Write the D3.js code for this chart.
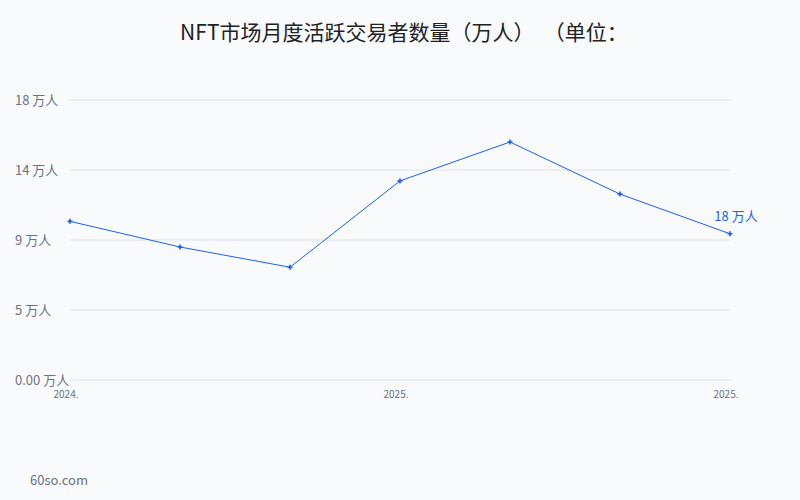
<!DOCTYPE html>
<html>
<head>
<meta charset="utf-8">
<script src="https://cdn.jsdelivr.net/npm/d3@7"></script>
<style>
  body { margin: 0; background: #f8fafc; }
  svg { display: block; font-family: "Noto Sans CJK SC", "Noto Sans", sans-serif; }
</style>
</head>
<body>
<svg width="800" height="500"></svg>
<script>
var months = ["2024.07", "2024.08", "2024.09", "2025.01", "2025.02", "2025.03", "2025.04"];
var traders = [10.2, 8.55, 7.25, 12.8, 15.3, 11.95, 9.4];
var tickValues = [0, 4.5, 9, 13.5, 18];
var tickLabels = ["0.00 万人", "5 万人", "9 万人", "14 万人", "18 万人"];
var xLabelIndex = [0, 3, 6];
var xLabels = ["2024.", "2025.", "2025."];
var endLabel = "18 万人";

var svg = d3.select("svg"), width = +svg.attr("width"),
    height = +svg.attr("height");

var x = d3.scalePoint().domain(d3.range(months.length)).range([70, 730]);
var y = d3.scaleLinear().domain([0, 18]).range([380, 100]);

svg.append("rect").attr("width", width).attr("height", height).attr("fill", "#f8fafc");

svg.append("text")
    .attr("x", 404).attr("y", 40)
    .attr("text-anchor", "middle")
    .attr("font-size", 21)
    .attr("fill", "#222")
    .attr("xml:space", "preserve")
    .style("white-space", "pre")
    .text("NFT市场月度活跃交易者数量（万人）  （单位：");

var grid = svg.append("g").attr("class", "grid");
grid.selectAll("line")
    .data(tickValues)
    .enter()
    .append("line")
    .attr("x1", 70).attr("x2", 730)
    .attr("y1", function(d) { return y(d); })
    .attr("y2", function(d) { return y(d); })
    .attr("stroke", "#dce3f2")
    .attr("stroke-width", 1);

svg.append("g").selectAll("text")
    .data(tickValues)
    .enter()
    .append("text")
    .attr("x", 15)
    .attr("y", function(d) { return y(d); })
    .attr("dy", ".35em")
    .attr("font-size", 13)
    .attr("fill", "#6b7280")
    .text(function(d, i) { return tickLabels[i]; });

svg.append("g").selectAll("text")
    .data(xLabelIndex)
    .enter()
    .append("text")
    .attr("x", function(d) { return x(d) - 4; })
    .attr("y", 398)
    .attr("text-anchor", "middle")
    .attr("font-size", 10)
    .attr("fill", "#6b7280")
    .text(function(d, i) { return xLabels[i]; });

var line = d3.line()
    .x(function(d, i) { return x(i); })
    .y(function(d) { return y(d); });

svg.append("path")
    .datum(traders)
    .attr("d", line)
    .attr("fill", "none")
    .attr("stroke", "#1d5ef0")
    .attr("stroke-width", 1);

svg.append("g").selectAll("path")
    .data(traders)
    .enter()
    .append("path")
    .attr("transform", function(d, i) { return "translate(" + x(i) + "," + y(d) + ")"; })
    .attr("d", d3.symbol().type(d3.symbolCross).size(14))
    .attr("fill", "#1d5ef0");

var last = traders.length - 1;
svg.append("text")
    .attr("x", x(last) + 6)
    .attr("y", y(traders[last]) - 13)
    .attr("text-anchor", "middle")
    .attr("font-size", 13)
    .attr("fill", "#1d5ef0")
    .text(endLabel);

svg.append("text")
    .attr("x", 30).attr("y", 485)
    .attr("font-size", 13)
    .attr("fill", "#6b7280")
    .text("60so.com");
</script>
</body>
</html>
